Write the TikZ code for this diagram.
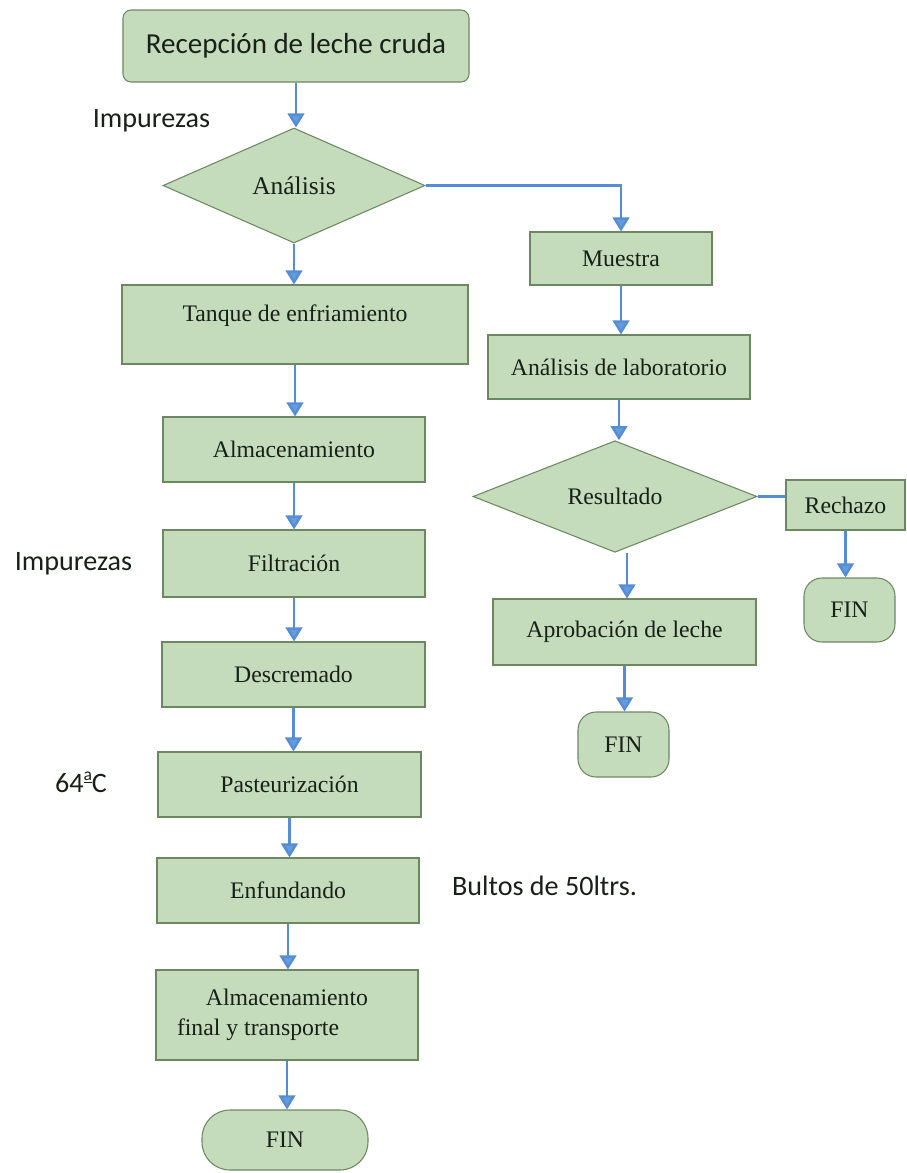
\documentclass[tikz,border=0pt]{standalone}
\usepackage{fontspec}
\setmainfont{Liberation Serif}
\newfontfamily\notefont{Carlito}
\usetikzlibrary{shapes.geometric,arrows.meta}
\definecolor{boxfill}{RGB}{196,220,187}
\definecolor{boxline}{RGB}{108,136,96}
\definecolor{flow}{RGB}{84,141,212}
\definecolor{tipfill}{RGB}{100,155,222}
\definecolor{ink}{RGB}{24,32,24}
\newcommand\ordmark{\raisebox{0.42em}{\fontsize{10}{10}\selectfont\underline{a}}}
\begin{document}
\begin{tikzpicture}[x=0.02cm,y=-0.02cm,
  box/.style={draw=boxline, fill=boxfill, line width=0.6pt, text=ink,
    font=\fontsize{13.5}{17}\selectfont, inner sep=0pt, align=center},
  sz/.style 2 args={minimum width={#1*0.02cm}, minimum height={#2*0.02cm}},
  decision/.style={box, diamond},
  arr/.style={draw=flow, line width=1.3pt, -{Triangle[width=9.5pt,length=8pt,fill=tipfill]}},
  link/.style={draw=flow, line width=1.3pt},
  note/.style={font=\notefont\fontsize{16}{19}\selectfont, text=ink, anchor=base, inner sep=0pt}]
\useasboundingbox[fill=white] (0,0) rectangle (906,1173);

% main process column
\node[box, sz={346}{72}, rounded corners=0.16cm, font=\notefont\fontsize{16.5}{19}\selectfont] (rec) at (296,46) {Recepción de leche cruda};
\node[decision, sz={262}{115}, font=\fontsize{14.5}{17}\selectfont] (ana) at (294,185.5) {Análisis};
\node[box, sz={346}{79}] (tan) at (295,324.5) {Tanque de enfriamiento\rule[-13pt]{0pt}{0pt}};
\node[box, sz={262}{65}] (alm) at (294,449.5) {Almacenamiento};
\node[box, sz={262}{67}] (fil) at (294,563.5) {Filtración};
\node[box, sz={263}{65}] (des) at (293.5,674.5) {Descremado};
\node[box, sz={263}{65}] (pas) at (289.5,784.5) {Pasteurización};
\node[box, sz={262}{65}] (enf) at (288,890.5) {Enfundando};
\node[box, sz={262}{90}] (alf) at (287,1015) {Almacenamiento\\final y transporte\hspace*{33pt}};
\node[box, sz={166}{60}, rounded corners=0.56cm] (fin1) at (285,1140) {FIN};

% sample branch
\node[box, sz={182}{53}] (mue) at (621,258.5) {Muestra};
\node[box, sz={262}{64}] (lab) at (619,367) {Análisis de laboratorio};
\node[decision, sz={284}{107}] (res) at (615,496.5) {Resultado};
\node[box, sz={119}{50}] (rech) at (845.5,505) {Rechazo};
\node[box, sz={91}{64}, rounded corners=0.36cm] (fin2) at (849.5,610) {FIN};
\node[box, sz={263}{66}] (apr) at (624.5,632) {Aprobación de leche};
\node[box, sz={91}{65}, rounded corners=0.36cm] (fin3) at (623.5,744.5) {FIN};

% side notes
\node[note] (n1) at (151.5,127) {Impurezas};
\node[note] (n2) at (73.5,570) {Impurezas};
\node[note] (n3) at (81,792) {64\ordmark C};
\node[note] (n4) at (544.5,895) {Bultos de 50ltrs.};

% connectors
\draw[arr] (rec.south) -- (rec.south |- ana.north);
\draw[arr] (ana.south) -- (ana.south |- tan.north);
\draw[arr] (tan.south) -- (tan.south |- alm.north);
\draw[arr] (alm.south) -- (alm.south |- fil.north);
\draw[arr] (fil.south) -- (fil.south |- des.north);
\draw[arr] (des.south) -- (des.south |- pas.north);
\draw[arr] (pas.south) -- (pas.south |- enf.north);
\draw[arr] (enf.south) -- (enf.south |- alf.north);
\draw[arr] (alf.south) -- (alf.south |- fin1.north);

\draw[arr] (ana.east) -| (mue.north);
\draw[arr] (mue.south) -- (mue.south |- lab.north);
\draw[arr] (lab.south) -- (lab.south |- res.north);
\draw[link] (res.east) -- (res.east -| rech.west);
\draw[arr] (rech.south) -- (rech.south |- fin2.north);
\draw[arr] ([xshift=0.24cm]res.south) -- ([xshift=0.24cm]res.south |- apr.north);
\draw[arr] (apr.south) -- (apr.south |- fin3.north);
\end{tikzpicture}
\end{document}
